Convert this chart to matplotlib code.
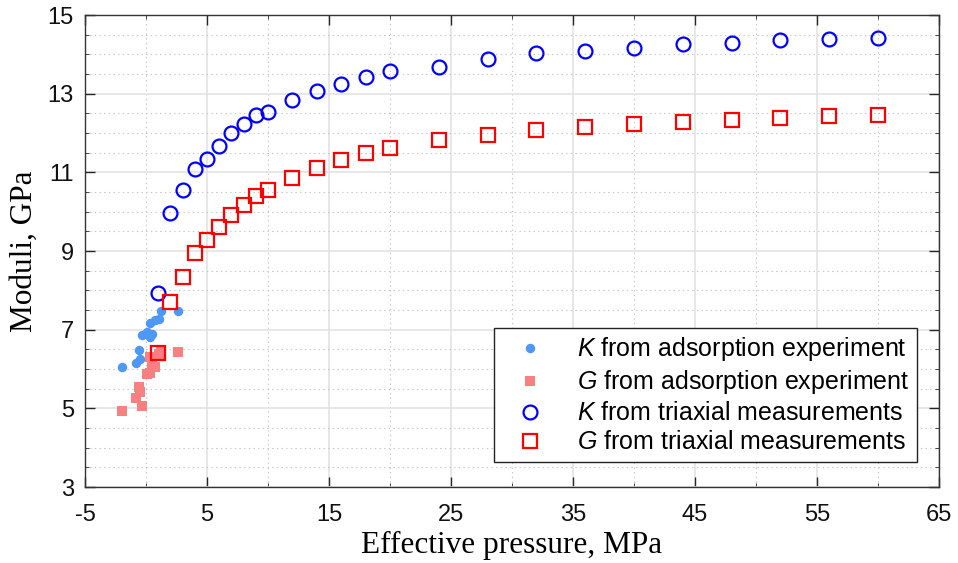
import matplotlib
matplotlib.use("Agg")
import matplotlib.pyplot as plt
from matplotlib.ticker import MultipleLocator, FixedLocator

plt.rcParams['font.family'] = ['Liberation Sans', 'DejaVu Sans']
plt.rcParams['mathtext.fontset'] = 'custom'
plt.rcParams['mathtext.rm'] = 'Liberation Sans'
plt.rcParams['mathtext.it'] = 'Liberation Sans:italic'
plt.rcParams['axes.unicode_minus'] = False

# Adsorption experiment (effective pressure, MPa; moduli, GPa)
p_ads = [-2.0, -0.85, -0.55, -0.5, -0.35, 0.05, 0.3, 0.5, 0.3, 0.75, 1.05, 1.2, 2.6]
k_ads = [6.05, 6.15, 6.48, 6.26, 6.86, 6.94, 6.81, 6.90, 7.17, 7.24, 7.26, 7.48, 7.47]
g_ads = [4.93, 5.27, 5.53, 5.42, 5.05, 5.88, 5.90, 6.07, 6.30, 6.05, 6.38, 6.42, 6.43]

# Triaxial measurements
p_tri = [1, 2, 3, 4, 5, 6, 7, 8, 9, 10, 12, 14, 16, 18, 20, 24, 28, 32, 36, 40,
         44, 48, 52, 56, 60]
k_tri = [7.92, 9.96, 10.54, 11.08, 11.35, 11.67, 11.99, 12.22, 12.46, 12.53,
         12.85, 13.07, 13.25, 13.43, 13.58, 13.69, 13.88, 14.03, 14.08, 14.16,
         14.26, 14.30, 14.36, 14.40, 14.42]
g_tri = [6.41, 7.70, 8.34, 8.94, 9.28, 9.61, 9.92, 10.17, 10.40, 10.56,
         10.86, 11.11, 11.31, 11.48, 11.61, 11.81, 11.96, 12.07, 12.16, 12.22,
         12.29, 12.33, 12.38, 12.43, 12.45]

x_ticks = [-5, 5, 15, 25, 35, 45, 55, 65]
y_ticks = [3, 5, 7, 9, 11, 13, 15]

fig = plt.figure(figsize=(9.58, 5.63), dpi=100)
ax = fig.add_axes([85 / 958, 1 - 487 / 563, (939 - 85) / 958, (487 - 15) / 563])

ax.plot(p_ads, k_ads, 'o', color='#4f97f5', markersize=6.8, markeredgewidth=0,
        label=r'$K$ from adsorption experiment', zorder=3)
ax.plot(p_ads, g_ads, 's', color='#f88080', markersize=7, markeredgewidth=0,
        label=r'$G$ from adsorption experiment', zorder=3)
ax.plot(p_tri, k_tri, 'o', markerfacecolor='none', markeredgecolor='#0000ff',
        markersize=10, markeredgewidth=1.6,
        label=r'$K$ from triaxial measurements', zorder=4)
ax.plot(p_tri, g_tri, 's', markerfacecolor='none', markeredgecolor='#ff0000',
        markersize=9.5, markeredgewidth=1.6,
        label=r'$G$ from triaxial measurements', zorder=4)

ax.set_xlim(-5, 65)
ax.set_ylim(3, 15)
ax.xaxis.set_major_locator(FixedLocator(x_ticks))
ax.yaxis.set_major_locator(FixedLocator(y_ticks))
ax.xaxis.set_minor_locator(MultipleLocator(5))
ax.yaxis.set_minor_locator(MultipleLocator(0.5))

ax.grid(which='major', color='#e3e3e3', linestyle='-', linewidth=1.2, zorder=0)
ax.grid(which='minor', color='#c4c4c4', linestyle=(0, (1.2, 3)), linewidth=0.8,
        zorder=0)
ax.set_axisbelow(True)

ax.tick_params(which='major', direction='in', length=7, width=1,
               top=True, right=True, labelsize=17, colors='#262626',
               labelcolor='#111111')
ax.tick_params(axis='x', which='major', pad=12)
ax.tick_params(axis='y', which='major', pad=8)
ax.tick_params(which='minor', direction='in', length=3, width=0.6,
               top=True, right=True, colors='#262626')
for s in ax.spines.values():
    s.set_color('#333333')
    s.set_linewidth(1.0)

ax.set_xlabel('Effective pressure, MPa', family='Liberation Serif', fontsize=22.5,
              labelpad=4)
ax.set_ylabel('Moduli, GPa', family='Liberation Serif', fontsize=22.5, labelpad=6)

leg = ax.legend(loc='lower right', bbox_to_anchor=(0.974, 0.053),
                borderaxespad=0, fontsize=18, frameon=True, fancybox=False,
                edgecolor='#222222', framealpha=1, handlelength=2.3,
                handletextpad=0.72, borderpad=0.3, labelspacing=0.2,
                numpoints=1)
leg.get_frame().set_linewidth(1.0)
leg.set_zorder(5)

fig.savefig('out.png', dpi=100)
